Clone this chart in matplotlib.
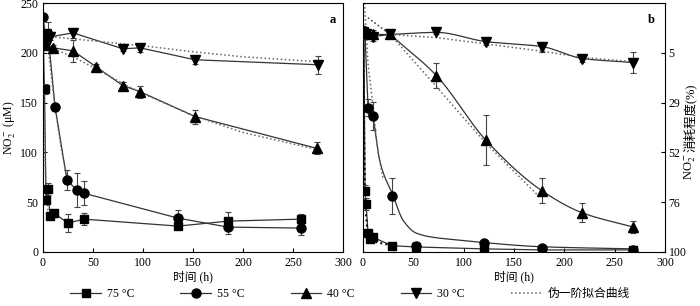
import numpy as np
import matplotlib
matplotlib.use("Agg")
import matplotlib.pyplot as plt
from matplotlib.lines import Line2D

plt.rcParams['font.family'] = ['Liberation Serif', 'Noto Sans CJK SC']
plt.rcParams['mathtext.fontset'] = 'stix'

# ---------------- Panel a: NO2- concentration (uM) ----------------
t75a = [0, 1.5, 3, 5, 7, 11, 25, 41, 135, 185, 258]
c75a = [218, 164, 52, 63, 36, 39, 29, 33, 26, 31, 33]
e75a = [4, 5, 4, 6, 2, 3, 9, 6, 3, 9, 5]

t55a = [0, 3, 5, 12, 24, 34, 41, 135, 185, 258]
c55a = [236, 212, 219, 146, 72, 62, 59, 34, 25, 24]
e55a = [3, 4, 12, 3, 10, 17, 12, 8, 7, 7]

t40a = [0, 3, 10, 30, 53, 80, 97, 152, 274]
c40a = [212, 208, 205, 202, 186, 167, 161, 136, 104]
e40a = [3, 3, 3, 11, 3, 4, 6, 7, 6]

t30a = [0, 3, 7, 30, 80, 97, 152, 275]
c30a = [214, 219, 216, 220, 204, 205, 193, 188]
e30a = [3, 4, 3, 5, 2, 4, 4, 9]

# pseudo-first-order fit curves
f75a_t = [0, 0.5, 1, 1.5, 2, 3, 5, 8, 15]
f75a_c = [218, 200, 175, 140, 100, 60, 42, 37, 34]
f55a_t = [0, 2, 5, 8, 12, 18, 24]
f55a_c = [236, 225, 205, 180, 146, 105, 75]
f40a_t = [0, 10, 30, 53, 80, 100, 150, 200, 274]
f40a_c = [209, 204, 196, 184, 169, 159, 137, 120, 103]
f30a_t = [0, 50, 100, 150, 200, 275]
f30a_c = [217, 212, 207, 201, 196, 191]

# ---------------- Panel b: NO2- consumption (%) ----------------
t75b = [0, 1, 2, 3, 5, 7, 10, 29, 53, 120, 178, 268]
p75b = [-5, -4, 71, 77, 91, 94, 93, 97, 97.6, 98.5, 99, 99]
e75b = [2, 2, 3, 3, 1, 1, 1, 1, 1, 0.5, 0.5, 0.5]

t55b = [0, 2, 5, 10, 29, 53, 120, 178, 268]
p55b = [-5, -4, 31, 35, 73, 97, 95.7, 98, 99]
e55b = [2, 2, 4, 6.7, 8.6, 2, 1, 1, 1]
s55b_t = [10, 13, 16, 20, 29, 40, 53, 70, 100, 120, 178, 268]
s55b_p = [35, 45, 55, 62, 72, 85, 91, 93, 94.5, 95.5, 97.5, 98.5]

t40b = [0, 3, 10, 27, 73, 122, 178, 218, 268]
p40b = [-6, -5, -4, -4, 15.7, 46.5, 70.8, 81.3, 88]
e40b = [2, 2, 2, 1, 6, 12, 6, 4.5, 3]

t30b = [0, 3, 10, 27, 73, 122, 178, 218, 268]
p30b = [-5, -4, -3, -4, -5, -0.6, 1.8, 7.5, 9.4]
e30b = [2, 2, 2, 1, 1, 1.5, 2.4, 1.5, 4.8]

f75b_t = [0, 0.5, 1, 2, 3, 4, 6, 10, 30]
f75b_p = [-19, 10, 40, 70, 82, 88, 92, 95, 97]
f55b_t = [1.5, 5, 10, 13, 16, 20]
f55b_p = [-19, 10, 30, 45, 55, 65]
f40b_t = [5, 27, 73, 122, 176]
f40b_p = [-12, -4, 21, 48, 74]
f30b_t = [5, 27, 73, 122, 178, 218, 268]
f30b_p = [-12, -4, -2.5, 0.5, 4, 7, 9]

xticks = [0, 50, 100, 150, 200, 250, 300]
yticks_a = [0, 50, 100, 150, 200, 250]
c0 = 210.0
yticks_b_labels = ['5', '29', '52', '76', '100']


def pchip(x, y, n=300):
    x = np.asarray(x, float)
    y = np.asarray(y, float)
    h = np.diff(x)
    d = np.diff(y) / h
    m = np.zeros_like(y)
    m[0] = d[0]
    m[-1] = d[-1]
    for k in range(1, len(x) - 1):
        if d[k - 1] * d[k] <= 0:
            m[k] = 0
        else:
            w1 = 2 * h[k] + h[k - 1]
            w2 = h[k] + 2 * h[k - 1]
            m[k] = (w1 + w2) / (w1 / d[k - 1] + w2 / d[k])
    xs = np.linspace(x[0], x[-1], n)
    idx = np.clip(np.searchsorted(x, xs) - 1, 0, len(x) - 2)
    hh = h[idx]
    tt = (xs - x[idx]) / hh
    h00 = 2 * tt**3 - 3 * tt**2 + 1
    h10 = tt**3 - 2 * tt**2 + tt
    h01 = -2 * tt**3 + 3 * tt**2
    h11 = tt**3 - tt**2
    ys = h00 * y[idx] + h10 * hh * m[idx] + h01 * y[idx + 1] + h11 * hh * m[idx + 1]
    return xs, ys


fig = plt.figure(figsize=(7.0, 3.06), dpi=100)
ax1 = fig.add_axes([43 / 700, 54 / 306, 300 / 700, 249 / 306])
ax2 = fig.add_axes([363 / 700, 54 / 306, 302 / 700, 249 / 306])

lc = '#333333'
fitc = '#666666'
ebkw = dict(ecolor='#444444', elinewidth=0.8, capsize=2.2, capthick=0.8)

markers = {'75': 's', '55': 'o', '40': '^', '30': 'v'}
msz = {'75': 5.5, '55': 6.5, '40': 6.5, '30': 6.5}

# ---- panel a ----
for key, t, c, e in [('75', t75a, c75a, e75a), ('55', t55a, c55a, e55a),
                     ('40', t40a, c40a, e40a), ('30', t30a, c30a, e30a)]:
    ax1.plot(t, c, '-', color=lc, lw=0.9, zorder=2)
    ax1.errorbar(t, c, yerr=e, fmt='none', zorder=3, **ebkw)
    ax1.plot(t, c, linestyle='none', marker=markers[key], ms=msz[key],
             color='black', zorder=4)
for ft, fc in [(f75a_t, f75a_c), (f55a_t, f55a_c), (f40a_t, f40a_c), (f30a_t, f30a_c)]:
    ax1.plot(ft, fc, ':', color=fitc, lw=1.1, zorder=2)

ax1.set_xlim(0, 300)
ax1.set_ylim(0, 250)
ax1.set_xticks(xticks)
ax1.set_yticks(yticks_a)
ax1.tick_params(direction='in', length=3, width=0.8, labelsize=8.5, top=False, right=False)
ax1.set_xlabel('时间 (h)', fontsize=8.5, labelpad=1)
ax1.set_ylabel('NO$_2^-$ (μM)', fontsize=8.5, labelpad=2)
ax1.text(0.965, 0.955, 'a', transform=ax1.transAxes, fontsize=9, fontweight='bold',
         ha='center', va='top')

# ---- panel b ----
for key, t, p, e in [('75', t75b, p75b, e75b), ('55', t55b, p55b, e55b),
                     ('40', t40b, p40b, e40b), ('30', t30b, p30b, e30b)]:
    ax2.errorbar(t, p, yerr=e, fmt='none', zorder=3, **ebkw)
    ax2.plot(t, p, linestyle='none', marker=markers[key], ms=msz[key],
             color='black', zorder=4)

ax2.plot(t75b, p75b, '-', color=lc, lw=0.9, zorder=2)
ax2.plot(t55b[:4], p55b[:4], '-', color=lc, lw=0.9, zorder=2)
xs, ys = pchip(s55b_t, s55b_p)
ax2.plot(xs, ys, '-', color=lc, lw=0.9, zorder=2)
ax2.plot(t40b[:4], p40b[:4], '-', color=lc, lw=0.9, zorder=2)
xs, ys = pchip(t40b[3:], p40b[3:])
ax2.plot(xs, ys, '-', color=lc, lw=0.9, zorder=2)
ax2.plot(t30b[:4], p30b[:4], '-', color=lc, lw=0.9, zorder=2)
xs, ys = pchip(t30b[3:], p30b[3:])
ax2.plot(xs, ys, '-', color=lc, lw=0.9, zorder=2)

ax2.plot(f75b_t, f75b_p, ':', color='black', lw=1.4, zorder=2)
for ft, fp in [(f55b_t, f55b_p), (f40b_t, f40b_p), (f30b_t, f30b_p)]:
    ax2.plot(ft, fp, ':', color=fitc, lw=1.1, zorder=2)

ax2.set_xlim(0, 300)
ax2.set_ylim(100, 100 * (1 - 250 / c0))
ax2.set_xticks(xticks)
ytb = [100 * (1 - c / c0) for c in [200, 150, 100, 50, 0]]
ax2.yaxis.tick_right()
ax2.set_yticks(ytb)
ax2.set_yticklabels(yticks_b_labels)
ax2.tick_params(direction='in', length=3, width=0.8, labelsize=8.5, top=False, left=False)
ax2.tick_params(axis='y', pad=2.5)
ax2.set_xlabel('时间 (h)', fontsize=8.5, labelpad=1)
ax2.text(0.955, 0.955, 'b', transform=ax2.transAxes, fontsize=9, fontweight='bold',
         ha='center', va='top')

# right-side label in two pieces (mathtext part + CJK part), reading bottom to top
fig.canvas.draw()
renderer = fig.canvas.get_renderer()
lab1 = fig.text(690 / 700, 1 - 180 / 306, 'NO$_2^-$', fontsize=9, rotation=90,
                ha='center', va='bottom')
bb = lab1.get_window_extent(renderer=renderer)
top_frac = bb.y1 / fig.bbox.height
fig.text(690 / 700, top_frac + 0.002, '消耗程度(%)', fontsize=9, rotation=90,
         ha='center', va='bottom')

for ax in (ax1, ax2):
    for s in ax.spines.values():
        s.set_linewidth(0.8)

handles = [
    Line2D([], [], color=lc, lw=0.9, marker='s', ms=5.5, mfc='black', mec='black'),
    Line2D([], [], color=lc, lw=0.9, marker='o', ms=6.5, mfc='black', mec='black'),
    Line2D([], [], color=lc, lw=0.9, marker='^', ms=6.5, mfc='black', mec='black'),
    Line2D([], [], color=lc, lw=0.9, marker='v', ms=6.5, mfc='black', mec='black'),
    Line2D([], [], color=fitc, lw=1.1, linestyle=':'),
]
labels = ['75 °C', '55 °C', '40 °C', '30 °C', '伪一阶拟合曲线']
fig.legend(handles, labels, loc='lower center', ncol=5, frameon=False,
           bbox_to_anchor=(0.5, -0.015), fontsize=8.5, handlelength=2.6,
           columnspacing=3.9, handletextpad=0.5)

fig.savefig('out.png', dpi=100)
